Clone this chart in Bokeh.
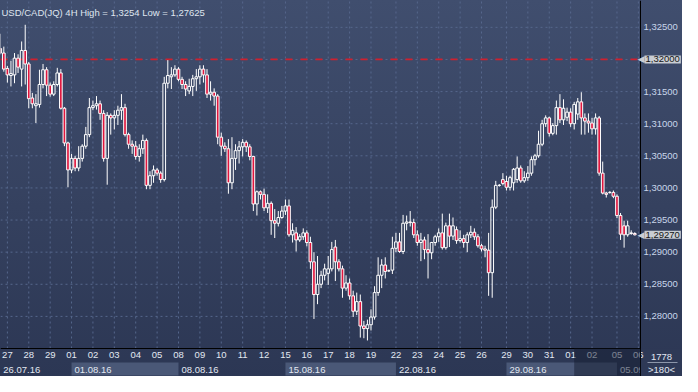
from bokeh.plotting import figure
from bokeh.models import Range1d, FixedTicker, Label, BoxAnnotation, ColumnDataSource, LinearAxis
from bokeh.core.properties import value
from bokeh.embed import file_html
from bokeh.resources import INLINE

# ---- data: 4H candles, USD/CAD, 26.07.16 - 05.09.16 ----
opens = [1.3217, 1.3210, 1.3186, 1.3175, 1.3176, 1.3202, 1.3185, 1.3214, 1.3193, 1.3140,
         1.3128, 1.3130, 1.3161, 1.3184, 1.3160, 1.3146, 1.3161, 1.3179, 1.3124, 1.3070,
         1.3028, 1.3046, 1.3031, 1.3046, 1.3065, 1.3083, 1.3125, 1.3128, 1.3131, 1.3116,
         1.3046, 1.3113, 1.3109, 1.3113, 1.3121, 1.3125, 1.3083, 1.3068, 1.3065, 1.3049,
         1.3061, 1.3074, 1.3004, 1.3019, 1.3028, 1.3023, 1.3013, 1.3163, 1.3173, 1.3176,
         1.3185, 1.3169, 1.3161, 1.3151, 1.3158, 1.3170, 1.3173, 1.3185, 1.3176, 1.3146,
         1.3149, 1.3143, 1.3079, 1.3065, 1.3061, 1.3008, 1.3046, 1.3058, 1.3064, 1.3071,
         1.3064, 1.3049, 1.2975, 1.2994, 1.2990, 1.2969, 1.2976, 1.2949, 1.2945, 1.2954,
         1.2964, 1.2972, 1.2927, 1.2930, 1.2919, 1.2924, 1.2930, 1.2915, 1.2885, 1.2834,
         1.2850, 1.2864, 1.2867, 1.2874, 1.2908, 1.2885, 1.2874, 1.2844, 1.2852, 1.2832,
         1.2808, 1.2823, 1.2785, 1.2781, 1.2787, 1.2799, 1.2837, 1.2864, 1.2880, 1.2871,
         1.2872, 1.2906, 1.2916, 1.2901, 1.2945, 1.2947, 1.2946, 1.2927, 1.2915, 1.2919,
         1.2904, 1.2899, 1.2915, 1.2924, 1.2930, 1.2907, 1.2941, 1.2925, 1.2935, 1.2918,
         1.2921, 1.2915, 1.2927, 1.2931, 1.2924, 1.2910, 1.2905, 1.2903, 1.2868, 1.2970,
         1.3004, 1.3013, 1.3010, 1.3001, 1.3008, 1.3013, 1.3031, 1.3011, 1.3016, 1.3023,
         1.3044, 1.3050, 1.3068, 1.3100, 1.3109, 1.3085, 1.3097, 1.3125, 1.3106, 1.3110,
         1.3118, 1.3100, 1.3115, 1.3134, 1.3109, 1.3104, 1.3101, 1.3092, 1.3109, 1.3023,
         1.2992, 1.2993, 1.2993, 1.2987, 1.2957, 1.2941, 1.2927, 1.2930, 1.2929]
highs = [1.3240, 1.3220, 1.3190, 1.3198, 1.3210, 1.3208, 1.3228, 1.3254, 1.3196, 1.3148,
         1.3146, 1.3184, 1.3193, 1.3188, 1.3164, 1.3166, 1.3187, 1.3185, 1.3126, 1.3072,
         1.3053, 1.3050, 1.3065, 1.3068, 1.3095, 1.3140, 1.3136, 1.3143, 1.3136, 1.3121,
         1.3118, 1.3116, 1.3121, 1.3128, 1.3146, 1.3131, 1.3086, 1.3074, 1.3073, 1.3068,
         1.3083, 1.3077, 1.3026, 1.3035, 1.3031, 1.3026, 1.3173, 1.3199, 1.3188, 1.3191,
         1.3188, 1.3173, 1.3166, 1.3170, 1.3176, 1.3185, 1.3191, 1.3191, 1.3185, 1.3166,
         1.3155, 1.3146, 1.3086, 1.3071, 1.3076, 1.3079, 1.3068, 1.3073, 1.3076, 1.3074,
         1.3068, 1.3050, 1.2996, 1.2996, 1.2999, 1.2990, 1.2979, 1.2967, 1.2964, 1.2972,
         1.2982, 1.2982, 1.2945, 1.2939, 1.2928, 1.2937, 1.2934, 1.2924, 1.2900, 1.2894,
         1.2871, 1.2882, 1.2894, 1.2916, 1.2919, 1.2889, 1.2879, 1.2864, 1.2859, 1.2840,
         1.2837, 1.2834, 1.2793, 1.2795, 1.2811, 1.2847, 1.2892, 1.2889, 1.2892, 1.2873,
         1.2924, 1.2930, 1.2930, 1.2958, 1.2957, 1.2964, 1.2952, 1.2934, 1.2930, 1.2924,
         1.2928, 1.2916, 1.2927, 1.2937, 1.2960, 1.2946, 1.2960, 1.2954, 1.2940, 1.2934,
         1.2927, 1.2931, 1.2941, 1.2937, 1.2928, 1.2913, 1.2910, 1.2930, 1.2982, 1.3011,
         1.3006, 1.3023, 1.3019, 1.3019, 1.3031, 1.3049, 1.3035, 1.3026, 1.3034, 1.3049,
         1.3053, 1.3089, 1.3106, 1.3113, 1.3111, 1.3101, 1.3136, 1.3146, 1.3138, 1.3125,
         1.3124, 1.3134, 1.3140, 1.3149, 1.3116, 1.3116, 1.3109, 1.3116, 1.3112, 1.3041,
         1.2994, 1.2995, 1.2996, 1.2990, 1.2961, 1.2949, 1.2949, 1.2934, 1.2931]
lows = [1.3208, 1.3181, 1.3164, 1.3158, 1.3163, 1.3179, 1.3158, 1.3161, 1.3124, 1.3124,
        1.3101, 1.3125, 1.3155, 1.3143, 1.3142, 1.3143, 1.3158, 1.3122, 1.3065, 1.3001,
        1.3023, 1.3026, 1.3026, 1.3041, 1.3061, 1.3079, 1.3121, 1.3122, 1.3106, 1.3041,
        1.3005, 1.3083, 1.3091, 1.3098, 1.3106, 1.3080, 1.3061, 1.3053, 1.3044, 1.3041,
        1.3053, 1.2998, 1.2998, 1.3008, 1.3019, 1.3008, 1.3010, 1.3155, 1.3154, 1.3173,
        1.3166, 1.3154, 1.3143, 1.3146, 1.3143, 1.3151, 1.3161, 1.3164, 1.3140, 1.3136,
        1.3128, 1.3068, 1.3050, 1.3056, 1.2991, 1.2998, 1.3028, 1.3038, 1.3049, 1.3056,
        1.3043, 1.2964, 1.2957, 1.2982, 1.2964, 1.2961, 1.2927, 1.2922, 1.2940, 1.2952,
        1.2958, 1.2924, 1.2915, 1.2901, 1.2916, 1.2919, 1.2909, 1.2874, 1.2796, 1.2819,
        1.2844, 1.2856, 1.2849, 1.2870, 1.2855, 1.2870, 1.2829, 1.2840, 1.2826, 1.2799,
        1.2802, 1.2767, 1.2766, 1.27625, 1.2778, 1.2795, 1.2832, 1.2844, 1.2859, 1.2869,
        1.2866, 1.2900, 1.2899, 1.2897, 1.2934, 1.2940, 1.2922, 1.2910, 1.2886, 1.2889,
        1.2859, 1.2889, 1.2910, 1.2916, 1.2904, 1.2904, 1.2908, 1.2919, 1.2913, 1.2915,
        1.2907, 1.2900, 1.2922, 1.2919, 1.2907, 1.2901, 1.2892, 1.2832, 1.2829, 1.2967,
        1.3002, 1.3004, 1.2996, 1.2996, 1.2996, 1.3008, 1.3008, 1.3008, 1.3011, 1.3019,
        1.3035, 1.3047, 1.3065, 1.3095, 1.3080, 1.3082, 1.3083, 1.3101, 1.3098, 1.3104,
        1.3095, 1.3091, 1.3106, 1.3083, 1.3083, 1.3086, 1.3083, 1.3083, 1.3019, 1.2990,
        1.2985, 1.2991, 1.2984, 1.2953, 1.2919, 1.2907, 1.2924, 1.2927, 1.2926]
closes = [1.3210, 1.3185, 1.3176, 1.3178, 1.3202, 1.3188, 1.3214, 1.3193, 1.3139, 1.3131,
          1.3131, 1.3161, 1.3184, 1.3160, 1.3146, 1.3161, 1.3179, 1.3124, 1.3070, 1.3028,
          1.3046, 1.3031, 1.3046, 1.3065, 1.3083, 1.3125, 1.3128, 1.3131, 1.3116, 1.3046,
          1.3113, 1.3109, 1.3113, 1.3121, 1.3125, 1.3083, 1.3068, 1.3065, 1.3049, 1.3061,
          1.3074, 1.3004, 1.3019, 1.3028, 1.3023, 1.3013, 1.3163, 1.3175, 1.3176, 1.3185,
          1.3169, 1.3161, 1.3154, 1.3158, 1.3170, 1.3173, 1.3185, 1.3176, 1.3146, 1.3149,
          1.3143, 1.3079, 1.3065, 1.3061, 1.3008, 1.3046, 1.3058, 1.3064, 1.3071, 1.3064,
          1.3049, 1.2975, 1.2994, 1.2990, 1.2969, 1.2976, 1.2949, 1.2945, 1.2954, 1.2964,
          1.2972, 1.2927, 1.2934, 1.2919, 1.2924, 1.2930, 1.2915, 1.2885, 1.2834, 1.2850,
          1.2864, 1.2874, 1.2874, 1.2904, 1.2885, 1.2874, 1.2844, 1.2852, 1.2832, 1.2808,
          1.2823, 1.2785, 1.2781, 1.2787, 1.2799, 1.2837, 1.2864, 1.2880, 1.2870, 1.2871,
          1.2906, 1.2916, 1.2901, 1.2945, 1.2947, 1.2946, 1.2927, 1.2915, 1.2919, 1.2904,
          1.2899, 1.2915, 1.2924, 1.2930, 1.2907, 1.2941, 1.2925, 1.2941, 1.2918, 1.2921,
          1.2915, 1.2927, 1.2931, 1.2924, 1.2910, 1.2905, 1.2903, 1.2868, 1.2970, 1.3004,
          1.3004, 1.3007, 1.3001, 1.3016, 1.3029, 1.3031, 1.3011, 1.3016, 1.3023, 1.3044,
          1.3050, 1.3068, 1.3100, 1.3109, 1.3085, 1.3097, 1.3125, 1.3106, 1.3124, 1.3118,
          1.3100, 1.3130, 1.3134, 1.3109, 1.3104, 1.3101, 1.3092, 1.3109, 1.3023, 1.2992,
          1.2990, 1.2993, 1.2987, 1.2957, 1.2928, 1.2927, 1.2941, 1.2929, 1.2927]

day_labels = ["26", "27", "28", "29", "01", "02", "03", "04", "05", "08", "09", "10", "11",
              "12", "15", "16", "17", "18", "19", "22", "23", "24", "25", "26", "29", "30",
              "31", "01", "02", "05", "06"]
bars_per_day = [2, 6, 6, 6, 6, 6, 6, 6, 6, 6, 6, 6, 6, 6, 6, 6, 6, 6, 7, 6, 6, 6, 6, 7, 6,
                6, 6, 6, 7, 6, 0]
week_labels = ["26.07.16", "01.08.16", "08.08.16", "15.08.16", "22.08.16", "29.08.16", "05.09.16"]
week_first_day = [0, 4, 9, 14, 19, 24, 29]
price_ticks = [1.280, 1.285, 1.290, 1.295, 1.300, 1.305, 1.310, 1.315, 1.320, 1.325]
marked_level = 1.320
symbol = "USD/CAD(JQ) 4H"
bars_total_text = "1778"
zoom_text = ">180<"

# ---- layout / style ----
FONT = "Liberation Sans"
FS = "9.5px"
W, H = 682, 376          # whole figure
CW = 640                 # width of the candle area
SH = 28                  # height of the time strip at the bottom
PH = H - SH              # height of the price area
RED = "#e0163e"
TXT = "#e2e8f2"
AXT = "#c8d5ea"
PRICE_TOP, PRICE_BOT = 1.32918, 1.2750


def fmt5(v):
    return f"{v:.5f}".replace(".", ",")


def fmt_short(v):
    return f"{v:.5f}".rstrip("0").replace(".", ",")


n = len(opens)
xs = list(range(n))
day_starts = []
acc = 0
for b in bars_per_day:
    day_starts.append(acc)
    acc += b

X0 = 0.07
X_MAIN_END = n + 0.6
x_end = X0 + (X_MAIN_END - X0) * W / CW
y_start = PRICE_BOT - (PRICE_TOP - PRICE_BOT) * SH / PH

tops = [max(o, c) for o, c in zip(opens, closes)]
bots = [min(o, c) for o, c in zip(opens, closes)]
fills = [RED if c < o else "rgba(0,0,0,0)" for o, c in zip(opens, closes)]
src = ColumnDataSource(dict(x=xs, top=tops, bot=bots, high=highs, low=lows, fill=fills))

p = figure(width=W, height=H, output_backend="svg", toolbar_location=None,
           x_range=Range1d(X0, x_end), y_range=Range1d(y_start, PRICE_TOP),
           x_axis_location=None, y_axis_location=None,
           min_border_left=0, min_border_right=0, min_border_top=0, min_border_bottom=0)
p.extra_x_ranges = {"px": Range1d(0, W)}
p.extra_y_ranges = {"px": Range1d(0, H)}
p.background_fill_alpha = 0
p.border_fill_alpha = 0
p.outline_line_color = None
p.grid.grid_line_color = None
p.styles = {"background": "linear-gradient(to bottom, #404e6e 0%, #35415f 55%, #2c3754 100%)"}

# grid (dashed) inside the candle area
GRID = dict(line_color="#56678c", line_dash="2 3", line_width=1)
vt = day_starts[1:]
p.segment(x0=vt, y0=[PRICE_BOT] * len(vt), x1=vt, y1=[PRICE_TOP] * len(vt), **GRID)
p.segment(x0=[X0] * len(price_ticks), y0=price_ticks, x1=[X_MAIN_END] * len(price_ticks),
          y1=price_ticks, **GRID)

# reference level
p.segment(x0=[X0], y0=[marked_level], x1=[X_MAIN_END], y1=[marked_level],
          line_color="#d0202f", line_width=1.7, line_dash="7 8")

# candles
p.segment(x0="x", y0="high", x1="x", y1="top", source=src, line_color="white", line_width=1)
p.segment(x0="x", y0="bot", x1="x", y1="low", source=src, line_color="white", line_width=1)
p.vbar(x="x", width=0.75, top="top", bottom="bot", source=src, fill_color="fill",
       line_color="white", line_width=1)

# week boxes + labels (bottom strip)
for k in range(len(week_labels)):
    if k % 2 == 1:
        start = day_starts[week_first_day[k]]
        end = day_starts[week_first_day[k + 1]] if k + 1 < len(week_first_day) else X_MAIN_END
        p.quad(left=[start], right=[end], bottom=[1], top=[14], y_range_name="px",
               fill_color="#4a5877", line_color=None)
p.text(x=[day_starts[d] for d in week_first_day], y=[7] * len(week_labels), text=week_labels,
       x_offset=3, y_range_name="px", text_font=value(FONT), text_font_size=value(FS),
       text_color=TXT, text_baseline="middle", text_align="left")

# bottom-right corner panel
p.quad(left=[CW], right=[W], bottom=[0], top=[SH], x_range_name="px", y_range_name="px",
       fill_color="#2e3956", line_color=None)
p.segment(x0=[CW + 7], y0=[14], x1=[W - 5], y1=[14], x_range_name="px", y_range_name="px",
          line_color="#8c96aa", line_width=1)
p.text(x=[CW + 21, CW + 21], y=[20, 7], text=[bars_total_text, zoom_text],
       x_range_name="px", y_range_name="px", text_font=value(FONT), text_font_size=value(FS),
       text_color=TXT, text_baseline="middle", text_align="center")

# axes drawn at fixed locations
yax = LinearAxis(fixed_location=X_MAIN_END, ticker=FixedTicker(ticks=price_ticks),
                 major_label_overrides={t: fmt5(t) for t in price_ticks})
xax = LinearAxis(fixed_location=PRICE_BOT, ticker=FixedTicker(ticks=day_starts[1:]),
                 major_label_overrides={day_starts[k]: day_labels[k] for k in range(1, len(day_labels))},
                 bounds=(X0, X_MAIN_END))
for ax in (xax, yax):
    ax.axis_line_color = "black"
    ax.axis_line_width = 1
    ax.major_tick_out = 0
    ax.major_tick_in = 0
    ax.minor_tick_line_color = None
    ax.major_tick_line_color = None
    ax.major_label_text_font = FONT
    ax.major_label_text_font_size = FS
    ax.major_label_standoff = 3
xax.major_label_text_color = TXT
yax.major_label_text_color = AXT
p.add_layout(yax, "right")
p.add_layout(xax, "below")

# dimmed zone at the right end of the time axis
p.add_layout(BoxAnnotation(left=day_starts[27] + 1, right=X_MAIN_END, bottom=0, top=SH,
                           y_range_name="px", fill_color="#141b30", fill_alpha=0.5,
                           line_alpha=0))

# title inside the plot
title_text = f"{symbol} High = {fmt_short(max(highs))} Low = {fmt_short(min(lows))}"
p.add_layout(Label(x=1, y=H - 12, x_range_name="px", y_range_name="px", text=title_text,
                   text_font=FONT, text_font_size=FS, text_color="#dfe5ef",
                   text_baseline="middle"))

# price markers on the right axis
for lvl in (marked_level, closes[-1]):
    p.add_layout(Label(x=CW + 4, y=lvl, x_range_name="px", text="◀",
                       text_font="DejaVu Sans", text_font_size="9px", text_color="#c9cdd3",
                       text_baseline="middle", text_align="right"))
    p.add_layout(Label(x=CW + 4, y=lvl, x_range_name="px", text=fmt5(lvl),
                       text_font=FONT, text_font_size=FS, text_color="#151515",
                       text_baseline="middle", background_fill_color="#c9cdd3", padding=1))

open("out.html", "w").write(file_html(p, INLINE))
